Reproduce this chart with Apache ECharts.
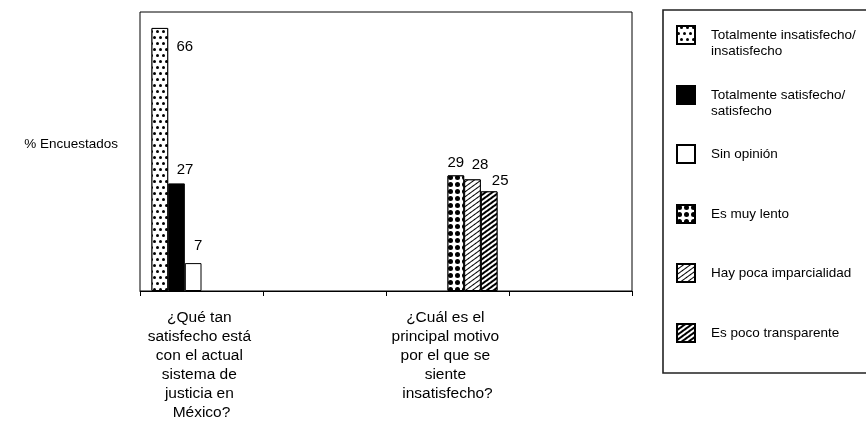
<!DOCTYPE html>
<html>
<head>
<meta charset="utf-8">
<script src="https://cdn.jsdelivr.net/npm/echarts@6/dist/echarts.min.js"></script>
<style>
  html, body { margin: 0; padding: 0; background: #fff; }
  #chart { width: 866px; height: 422px; }
</style>
</head>
<body>
<div id="chart"></div>
<script>
// Survey questions on the category axis (empty slots keep the spacing between groups)
const categories = [
  '¿Qué tan satisfecho está con el actual sistema de justicia en México?',
  '',
  '¿Cuál es el principal motivo por el que se siente insatisfecho?',
  ''
];

// Answers to the satisfaction question (%)
const satisfactionNames = ['Totalmente insatisfecho/insatisfecho', 'Totalmente satisfecho/satisfecho', 'Sin opinión'];
const satisfactionValues = [66, 27, 7];

// Main reason for dissatisfaction (%)
const reasonNames = ['Es muy lento', 'Hay poca imparcialidad', 'Es poco transparente'];
const reasonValues = [29, 28, 25];

const yAxisName = '% Encuestados';

const FONT = '"Liberation Sans", Arial, Helvetica, sans-serif';

// Fill patterns, one per series
const fills = [
  { color: '#fff', decal: { symbol: 'circle', color: '#000', backgroundColor: '#fff', symbolSize: 1,
      dashArrayX: [[2.8, 2.7], [0, 2.75, 2.8, -0.05]], dashArrayY: [2.8, 2.2] } },
  { color: '#000', decal: null },
  { color: '#fff', decal: null },
  { color: '#fff', decal: { symbol: 'circle', color: '#000', backgroundColor: '#fff', symbolSize: 1,
      dashArrayX: [4.5, 1.3], dashArrayY: [4.5, 1.3] } },
  { color: '#fff', decal: { symbol: 'rect', color: '#000', backgroundColor: '#fff', symbolSize: 1,
      dashArrayX: [1, 0], dashArrayY: [1, 3], rotation: -Math.PI / 5 } },
  { color: '#fff', decal: { symbol: 'rect', color: '#000', backgroundColor: '#fff', symbolSize: 1,
      dashArrayX: [1, 0], dashArrayY: [2, 2], rotation: -Math.PI / 5 } }
];

// Value label nudges (data labels sit beside the bar tops)
const labelOffsets = [[25, 31.5], [8.5, -1.5], [5, -4.5], [0, 0], [7.5, -2.5], [11, 2.5]];

const names = satisfactionNames.concat(reasonNames);
const series = names.map(function (name, i) {
  const data = categories.map(function () { return '-'; });
  if (i < 3) data[0] = satisfactionValues[i];
  else data[2] = reasonValues[i - 3];
  const f = fills[i];
  const itemStyle = { color: f.color, borderColor: '#000', borderWidth: 1 };
  if (f.decal) itemStyle.decal = f.decal;
  return {
    name: name,
    type: 'bar',
    barGap: '0%',
    barCategoryGap: '18.7%',
    data: data,
    itemStyle: itemStyle,
    label: {
      show: true,
      position: 'top',
      offset: labelOffsets[i],
      color: '#000',
      fontSize: 15,
      fontFamily: FONT
    }
  };
});

// Legend entries, one block per series stacked in the boxed panel.
// Two-line names get a blank leading line so the swatch lines up with the first line.
const legendCenters = [35, 95, 153, 213, 272, 332];
const LH = 16.5;
const legends = names.map(function (name, i) {
  const twoLines = name.indexOf('/') >= 0;
  return {
    data: [name],
    left: 676,
    top: twoLines ? legendCenters[i] - (LH * 3) / 2 : legendCenters[i] - 9,
    padding: 0,
    icon: 'rect',
    itemWidth: 18,
    itemHeight: 18,
    selectedMode: false,
    formatter: function (n) { return twoLines ? ' \n' + n.replace('/', '/\n') : n; },
    textStyle: {
      color: '#000',
      fontSize: 13.5,
      fontFamily: FONT,
      lineHeight: LH,
      padding: [0, 0, 0, 11]
    }
  };
});

const chart = echarts.init(document.getElementById('chart'), null, { renderer: 'canvas' });
chart.setOption({
  animation: false,
  backgroundColor: '#fff',
  grid: {
    left: 140, right: 234, top: 12, bottom: 131,
    show: true, borderColor: '#000', borderWidth: 1, backgroundColor: 'transparent'
  },
  legend: legends,
  graphic: [{
    type: 'rect',
    shape: { x: 663, y: 10, width: 230, height: 363 },
    style: { fill: 'none', stroke: '#222', lineWidth: 1.6 },
    silent: true
  }],
  xAxis: {
    type: 'category',
    data: categories,
    axisLine: { show: true, lineStyle: { color: '#000', width: 1 } },
    axisTick: { show: true, length: 5, lineStyle: { color: '#000' } },
    axisLabel: {
      interval: 0,
      margin: 17,
      width: 118,
      overflow: 'break',
      lineHeight: 19,
      fontSize: 15.5,
      color: '#000',
      fontFamily: FONT,
      align: 'center'
    },
    splitLine: { show: false }
  },
  yAxis: {
    type: 'value',
    min: 0,
    max: 70,
    name: yAxisName,
    nameLocation: 'middle',
    nameRotate: 0,
    nameGap: 22,
    nameTextStyle: { color: '#000', fontSize: 13.5, fontFamily: FONT, verticalAlign: 'bottom', lineHeight: 14 },
    axisLine: { show: false },
    axisTick: { show: false },
    axisLabel: { show: false },
    splitLine: { show: false }
  },
  series: series
});
</script>
</body>
</html>
